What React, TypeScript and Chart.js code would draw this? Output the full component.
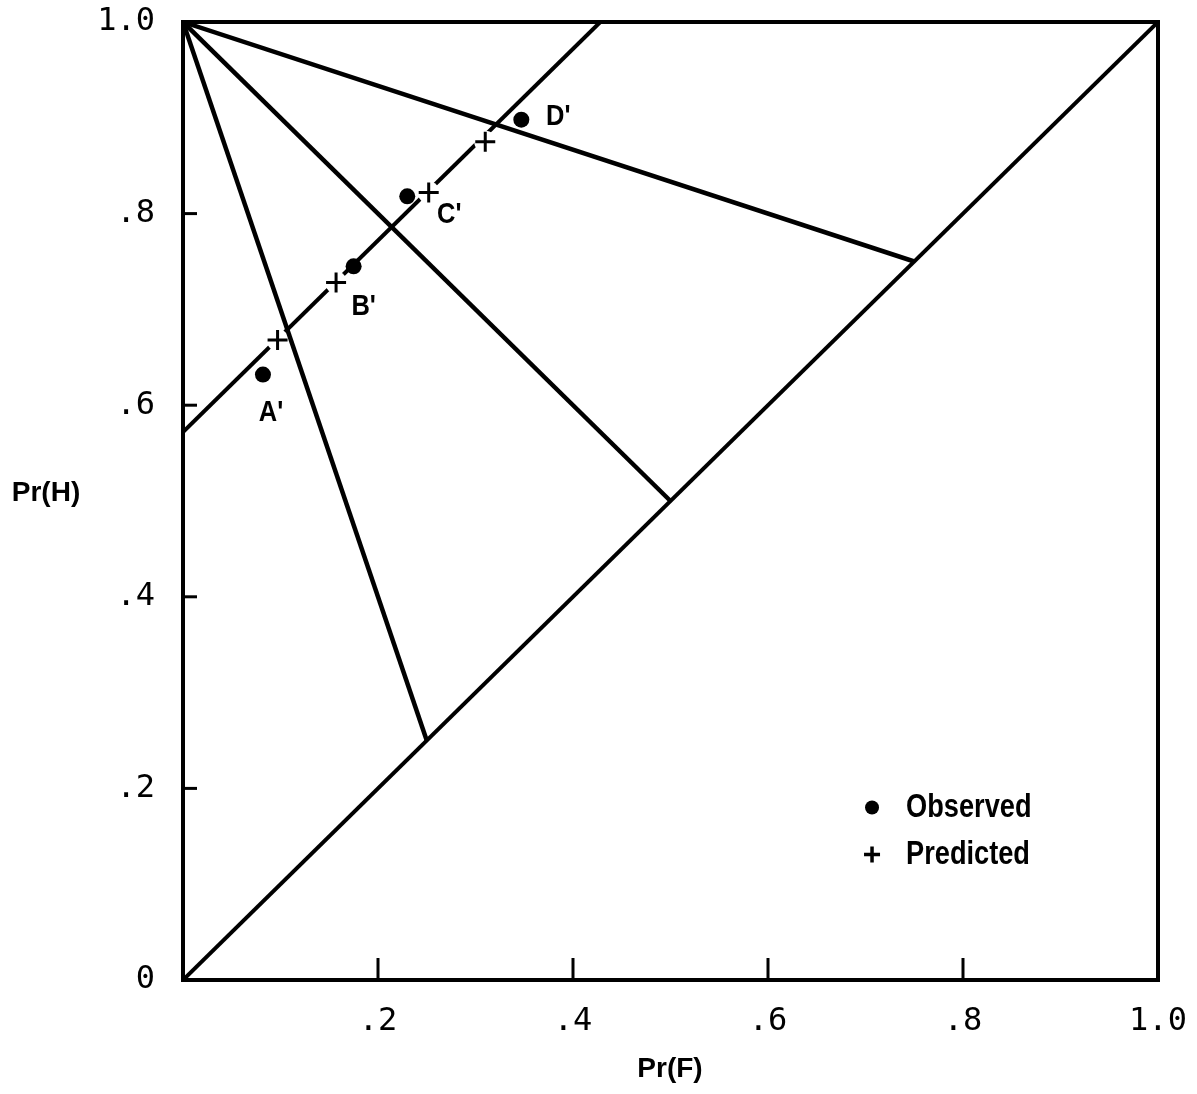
import React, { useEffect, useRef } from "react";
import { Chart, registerables } from "chart.js";

Chart.register(...registerables);

// ---- data ----
const observedF = [0.082, 0.175, 0.230, 0.347];
const observedH = [0.632, 0.745, 0.818, 0.898];
const predictedF = [0.097, 0.157, 0.252, 0.310];
const predictedH = [0.668, 0.728, 0.822, 0.875];
const pointNames = ["A'", "B'", "C'", "D'"];

const diagonalF = [0, 1];
const diagonalH = [0, 1];

const fanOriginF = 0;
const fanOriginH = 1;
const fanEndF = [0.25, 0.5, 0.75];
const fanEndH = [0.25, 0.5, 0.75];

const fitLineF = [0, 0.428];
const fitLineH = [0.572, 1.0];

const tickValues = [0, 0.2, 0.4, 0.6, 0.8, 1.0];
const xTickLabels = ["", ".2", ".4", ".6", ".8", "1.0"];
const yTickLabels = ["0", ".2", ".4", ".6", ".8", "1.0"];
const legendLabels = ["Observed", "Predicted"];
const xTitle = "Pr(F)";
const yTitle = "Pr(H)";

const toPoints = (xs: number[], ys: number[]) => xs.map((v, i) => ({ x: v, y: ys[i] }));

const SANS = "'Liberation Sans', Arial, sans-serif";

function narrowText(ctx: CanvasRenderingContext2D, text: string, x: number, y: number, size: number, align: CanvasTextAlign, squeeze: number) {
  ctx.save();
  ctx.font = `bold ${size}px ${SANS}`;
  ctx.textBaseline = "middle";
  ctx.textAlign = align;
  ctx.translate(x, y);
  ctx.scale(squeeze, 1);
  ctx.fillText(text, 0, 0);
  ctx.restore();
}

const decorPlugin = {
  id: "decor",
  afterDatasetsDraw(chart: any) {
    const { ctx, chartArea: a, scales } = chart;
    const xs = scales.x;
    const ys = scales.y;
    ctx.save();
    ctx.strokeStyle = "#000";
    ctx.fillStyle = "#000";
    ctx.lineCap = "butt";

    // frame
    ctx.lineWidth = 4;
    ctx.strokeRect(a.left, a.top, a.right - a.left, a.bottom - a.top);

    // inward ticks
    ctx.lineWidth = 3;
    tickValues.slice(1, -1).forEach((v) => {
      const px = xs.getPixelForValue(v);
      ctx.beginPath();
      ctx.moveTo(px, a.bottom);
      ctx.lineTo(px, a.bottom - 22);
      ctx.stroke();
      const py = ys.getPixelForValue(v);
      ctx.beginPath();
      ctx.moveTo(a.left, py);
      ctx.lineTo(a.left + 14, py);
      ctx.stroke();
    });

    // point labels
    const offsets = [
      [8, 38],
      [10, 40],
      [42, 18],
      [37, -3],
    ];
    pointNames.forEach((name, i) => {
      const px = xs.getPixelForValue(observedF[i]);
      const py = ys.getPixelForValue(observedH[i]);
      narrowText(ctx, name, px + offsets[i][0], py + offsets[i][1], 30, "center", 0.85);
    });

    // legend
    const lx = xs.getPixelForValue(0.7067);
    const ly1 = ys.getPixelForValue(0.18);
    const ly2 = ly1 + 47;
    ctx.beginPath();
    ctx.arc(lx, ly1, 7, 0, Math.PI * 2);
    ctx.fill();
    ctx.lineWidth = 3.5;
    ctx.beginPath();
    ctx.moveTo(lx - 8, ly2);
    ctx.lineTo(lx + 8, ly2);
    ctx.moveTo(lx, ly2 - 8);
    ctx.lineTo(lx, ly2 + 8);
    ctx.stroke();
    narrowText(ctx, legendLabels[0], lx + 34, ly1, 34, "left", 0.8);
    narrowText(ctx, legendLabels[1], lx + 34, ly2, 34, "left", 0.8);

    // axis titles
    narrowText(ctx, yTitle, 46, 493, 28, "center", 1);
    narrowText(ctx, xTitle, 670, 1069, 28, "center", 1);

    ctx.restore();
  },
};

export default function App() {
  const ref = useRef<HTMLCanvasElement | null>(null);

  useEffect(() => {
    const canvas = ref.current;
    if (!canvas) return;

    const lineStyle = {
      showLine: true,
      borderColor: "#000",
      borderWidth: 4.5,
      pointRadius: 0,
      pointHoverRadius: 0,
      fill: false,
    };

    const datasets: any[] = [
      {
        label: "Predicted",
        data: toPoints(predictedF, predictedH),
        pointStyle: "cross",
        pointRadius: 10,
        pointBorderWidth: 3,
        borderColor: "#000",
        backgroundColor: "#000",
        order: 0,
      },
      {
        label: "Observed",
        data: toPoints(observedF, observedH),
        pointStyle: "circle",
        pointRadius: 8,
        pointBorderWidth: 0,
        backgroundColor: "#000",
        borderColor: "#000",
        order: 1,
      },
      {
        label: "diagonal",
        data: toPoints(diagonalF, diagonalH),
        ...lineStyle,
        borderWidth: 4,
        order: 2,
      },
      ...fanEndF.map((f, i) => ({
        label: "fan" + i,
        data: [
          { x: fanOriginF, y: fanOriginH },
          { x: f, y: fanEndH[i] },
        ],
        ...lineStyle,
        order: 2,
      })),
      {
        label: "halo",
        data: toPoints(predictedF, predictedH),
        pointStyle: "circle",
        pointRadius: 11,
        pointBorderWidth: 0,
        backgroundColor: "#fff",
        borderColor: "#fff",
        order: 3,
      },
      {
        label: "fit",
        data: toPoints(fitLineF, fitLineH),
        ...lineStyle,
        borderWidth: 4,
        order: 4,
      },
    ];

    const zeroPad = (scale: any) => {
      scale.paddingTop = 0;
      scale.paddingBottom = 0;
      scale.paddingLeft = 0;
      scale.paddingRight = 0;
    };

    const chart = new Chart(canvas, {
      type: "scatter",
      data: { datasets },
      options: {
        animation: false,
        responsive: false,
        events: [],
        layout: { padding: { top: 22, right: 39, left: 0, bottom: 0 } },
        plugins: {
          legend: { display: false },
          tooltip: { enabled: false },
        },
        scales: {
          x: {
            type: "linear",
            min: 0,
            max: 1,
            afterBuildTicks: (scale: any) => {
              scale.ticks = tickValues.map((v) => ({ value: v }));
            },
            afterFit: (scale: any) => {
              scale.height = 114;
              zeroPad(scale);
            },
            grid: { display: false, drawTicks: false },
            border: { display: false },
            ticks: {
              padding: 22,
              color: "#000",
              font: { family: "'DejaVu Sans Mono', monospace", size: 32 },
              maxRotation: 0,
              autoSkip: false,
              callback: (_v: any, i: number) => xTickLabels[i],
            },
          },
          y: {
            type: "linear",
            min: 0,
            max: 1,
            afterBuildTicks: (scale: any) => {
              scale.ticks = tickValues.map((v) => ({ value: v }));
            },
            afterFit: (scale: any) => {
              scale.width = 183;
              zeroPad(scale);
            },
            grid: { display: false, drawTicks: false },
            border: { display: false },
            ticks: {
              padding: 28,
              color: "#000",
              font: { family: "'DejaVu Sans Mono', monospace", size: 32 },
              autoSkip: false,
              callback: (_v: any, i: number) => yTickLabels[i],
            },
          },
        },
      } as any,
      plugins: [decorPlugin],
    });

    return () => chart.destroy();
  }, []);

  return (
    <div style={{ position: "absolute", left: 0, top: 0, width: 1197, height: 1094, background: "#fff" }}>
      <canvas ref={ref} width={1197} height={1094} style={{ display: "block" }} />
    </div>
  );
}
